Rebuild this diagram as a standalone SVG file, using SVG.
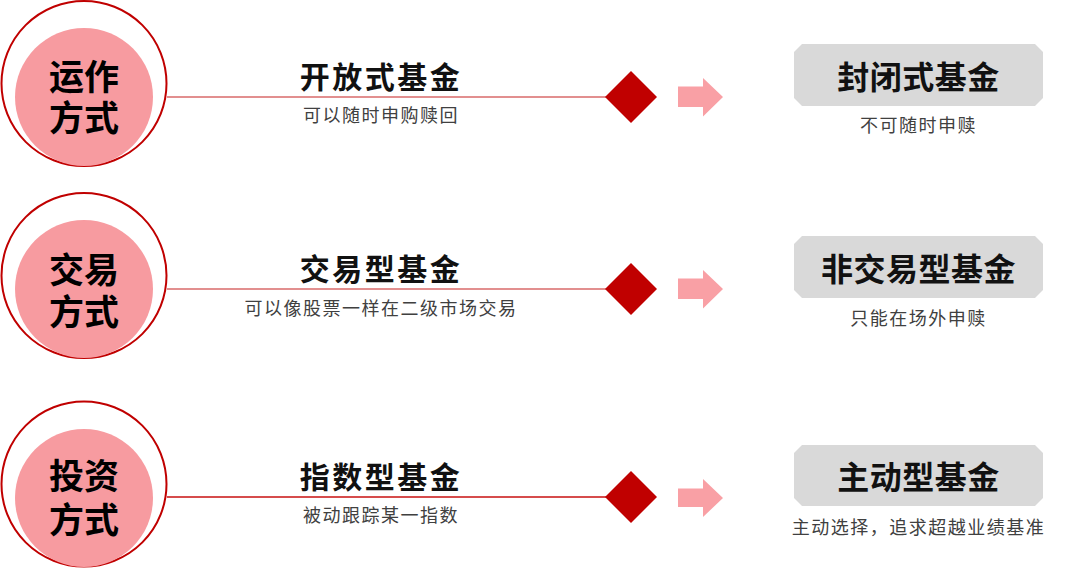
<svg xmlns="http://www.w3.org/2000/svg" width="1080" height="568" viewBox="0 0 1080 568">
<style>
text{font-family:"Noto Sans CJK SC","Noto Sans",sans-serif;}
.ring{fill:#ffffff;stroke:#c00000;stroke-width:2;}
.disc{fill:#f79ba0;}
.ctext{font-family:"Liberation Sans","Noto Sans CJK SC",sans-serif;font-size:35px;font-weight:bold;fill:#000;text-anchor:middle;}
.title{font-size:30px;font-weight:bold;fill:#111;text-anchor:middle;letter-spacing:2.5px;}
.sub{font-size:18px;fill:#404040;text-anchor:middle;letter-spacing:1.5px;}
.box{fill:#d9d9d9;}
.btitle{font-size:32px;font-weight:bold;fill:#111;text-anchor:middle;letter-spacing:0.5px;}
.dia{fill:#c00000;}
.arrow{fill:#f9a0a5;}
.conn{stroke:#d96a6a;stroke-width:1.5;fill:none;}
.conn3{stroke:#c81010;stroke-width:1.5;fill:none;}
</style>
<g id="connectors">
<line class="conn" x1="167" y1="97" x2="606" y2="97"/>
<line class="conn" x1="167" y1="289" x2="606" y2="289"/>
<line class="conn3" x1="167" y1="497" x2="606" y2="497"/>
</g>
<g id="circle1">
<circle class="ring" cx="84" cy="83.5" r="82.5"/>
<circle class="disc" cx="84" cy="97" r="69"/>
<text class="ctext" x="84" y="90">运作</text>
<text class="ctext" x="84" y="131">方式</text>
</g>
<g id="circle2">
<circle class="ring" cx="84" cy="275.5" r="82.5"/>
<circle class="disc" cx="84" cy="289" r="69"/>
<text class="ctext" x="84" y="283">交易</text>
<text class="ctext" x="84" y="325">方式</text>
</g>
<g id="circle3">
<circle class="ring" cx="84" cy="484" r="82.5"/>
<circle class="disc" cx="84" cy="498" r="69"/>
<text class="ctext" x="84" y="489">投资</text>
<text class="ctext" x="84" y="533">方式</text>
</g>
<g id="label1">
<text class="title" x="381" y="87.5">开放式基金</text>
<text class="sub" x="381" y="122">可以随时申购赎回</text>
</g>
<g id="label2">
<text class="title" x="381" y="279.5">交易型基金</text>
<text class="sub" x="381" y="315">可以像股票一样在二级市场交易</text>
</g>
<g id="label3">
<text class="title" x="381" y="487.5">指数型基金</text>
<text class="sub" x="381" y="522">被动跟踪某一指数</text>
</g>
<g id="diamond1"><polygon class="dia" points="605,97 631,71 657,97 631,123"/></g>
<g id="diamond2"><polygon class="dia" points="605,289 631,263 657,289 631,315"/></g>
<g id="diamond3"><polygon class="dia" points="605,497 631,471 657,497 631,523"/></g>
<g id="arrow1"><polygon class="arrow" points="678,86.5 703,86.5 703,78 723,97 703,116.5 703,107 678,107"/></g>
<g id="arrow2"><polygon class="arrow" points="678,278.5 703,278.5 703,270 723,289 703,308.5 703,299 678,299"/></g>
<g id="arrow3"><polygon class="arrow" points="678,488.5 703,488.5 703,479 723,498 703,517 703,507 678,507"/></g>
<g id="box1">
<polygon class="box" points="802,44 1035,44 1043,52 1043,98 1035,106 802,106 794,98 794,52"/>
<text class="btitle" x="918.5" y="88.5">封闭式基金</text>
<text class="sub" x="918.5" y="132">不可随时申赎</text>
</g>
<g id="box2">
<polygon class="box" points="802,236 1035,236 1043,244 1043,290 1035,298 802,298 794,290 794,244"/>
<text class="btitle" x="918.5" y="280.5">非交易型基金</text>
<text class="sub" x="918.5" y="325">只能在场外申赎</text>
</g>
<g id="box3">
<polygon class="box" points="802,445 1035,445 1043,453 1043,498 1035,506 802,506 794,498 794,453"/>
<text class="btitle" x="918.5" y="488.5">主动型基金</text>
<text class="sub" x="918.5" y="534">主动选择，追求超越业绩基准</text>
</g>
</svg>
